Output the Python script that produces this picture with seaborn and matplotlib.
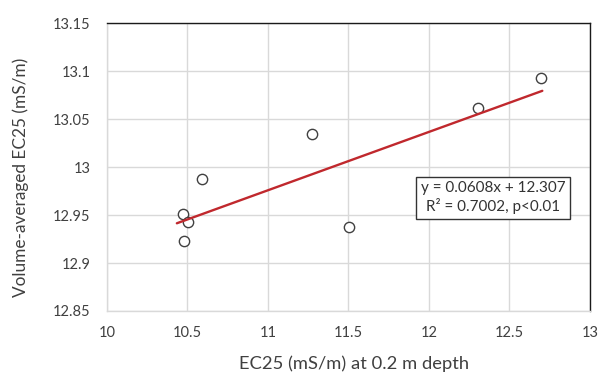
import numpy as np
import pandas as pd
import matplotlib
matplotlib.use("Agg")
import matplotlib.pyplot as plt
import seaborn as sns

# data
ec25_surface = [10.474, 10.503, 10.480, 10.590, 11.275, 11.505, 12.302, 12.694]
ec25_volume = [12.951, 12.943, 12.923, 12.988, 13.034, 12.938, 13.061, 13.093]
fit_slope = 0.0608
fit_intercept = 12.307
x_ticks = [10, 10.5, 11, 11.5, 12, 12.5, 13]
y_ticks = [12.85, 12.9, 12.95, 13.0, 13.05, 13.1, 13.15]
x_tick_labels = ["10", "10.5", "11", "11.5", "12", "12.5", "13"]
y_tick_labels = ["12.85", "12.9", "12.95", "13", "13.05", "13.1", "13.15"]
x_label = "EC25 (mS/m) at 0.2 m depth"
y_label = "Volume-averaged EC25 (mS/m)"
eq_text = "y = 0.0608x + 12.307\nR² = 0.7002, p<0.01"

df = pd.DataFrame({"x": ec25_surface, "y": ec25_volume})

sns.set_theme(style="white")
plt.rcParams["font.family"] = ["Lato", "DejaVu Sans"]

fig = plt.figure(figsize=(6, 3.72), dpi=100)
ax = fig.add_axes([0.1783, 0.164, 0.805, 0.774])

grid_c = "#d9d9d9"
ax.set_axisbelow(True)
ax.grid(True, color=grid_c, lw=1.0)

sns.scatterplot(data=df, x="x", y="y", ax=ax, s=55, marker="o",
                facecolor="white", edgecolor="#404040", linewidth=1.0, zorder=3)

xs = np.array([df["x"].min() - 0.04, df["x"].max() + 0.01])
ax.plot(xs, fit_slope * xs + fit_intercept, color="#c0282d", lw=1.7, zorder=4)

ax.set_xlim(10, 13)
ax.set_ylim(12.85, 13.15)
ax.set_xticks(x_ticks)
ax.set_xticklabels(x_tick_labels)
ax.set_yticks(y_ticks)
ax.set_yticklabels(y_tick_labels)
ax.tick_params(axis="both", length=0, labelsize=10.5, colors="#404040")
ax.tick_params(axis="y", pad=12)
ax.tick_params(axis="x", pad=11)
ax.set_xlabel(x_label, fontsize=13.2, color="#404040")
ax.set_ylabel(y_label, fontsize=12.4, color="#404040")
ax.xaxis.set_label_coords(0.511, -0.155)
ax.yaxis.set_label_coords(-0.161, 0.465)

for side in ["left", "bottom"]:
    ax.spines[side].set_color(grid_c)
    ax.spines[side].set_linewidth(1.0)
for side in ["top", "right"]:
    ax.spines[side].set_color("#1a1a1a")
    ax.spines[side].set_linewidth(1.0)

ax.text(0.80, 0.393, eq_text, transform=ax.transAxes, ha="center", va="center",
        fontsize=11, color="#333333", linespacing=1.25, zorder=5,
        bbox=dict(boxstyle="square,pad=0.3", facecolor="white", edgecolor="#333333", lw=1.0))

fig.savefig("out.png", dpi=100)
